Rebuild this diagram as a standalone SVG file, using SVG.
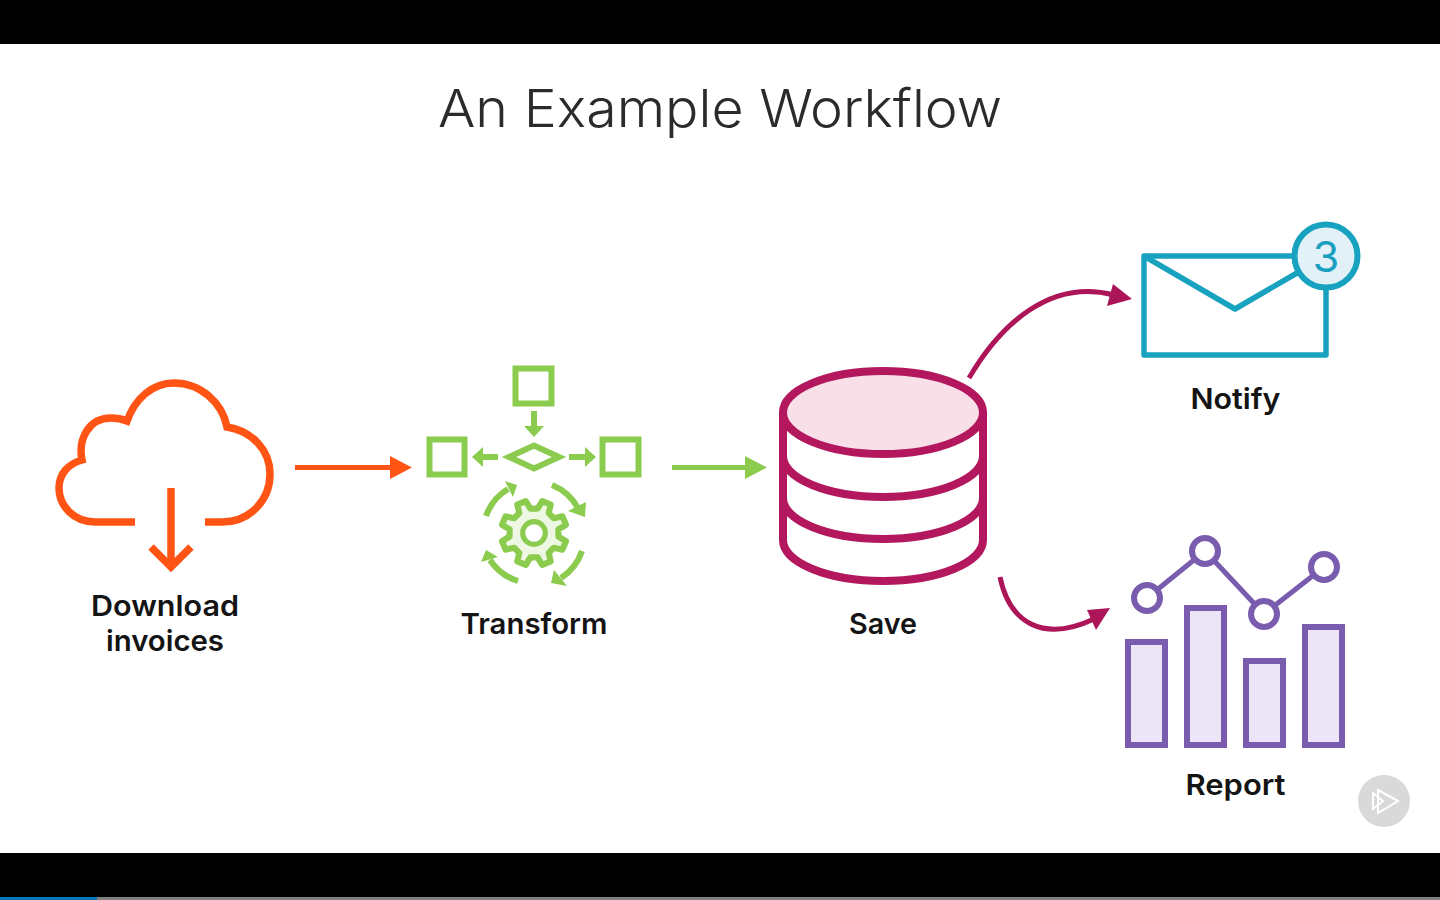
<svg xmlns="http://www.w3.org/2000/svg" width="1440" height="900" viewBox="0 0 1440 900">
<style>
.title{font-family:Inter,"Liberation Sans",sans-serif;font-weight:300;font-size:52px;fill:#2b2b2b}
.lbl{font-family:Inter,"Liberation Sans",sans-serif;font-weight:600;font-size:29px;fill:#141414;text-anchor:middle}
.or{fill:none;stroke:#ff5414;stroke-width:7.5}
.gr{fill:none;stroke:#8bcb4e;stroke-width:6}
.grf{fill:#8bcb4e}
.db{fill:none;stroke:#b3185f;stroke-width:8}
.cn{fill:none;stroke:#ad1559;stroke-width:5}
.cnf{fill:#ad1559}
.tl{fill:none;stroke:#17a2bf;stroke-width:5.5;stroke-linejoin:round}
.pu{fill:#ece4f7;stroke:#7a5cae;stroke-width:6}
.pl{fill:#fff;stroke:#7a5cae;stroke-width:6}
</style>
<rect x="0" y="0" width="1440" height="900" fill="#fff"/>
<rect x="0" y="0" width="1440" height="44" fill="#000"/>
<rect x="0" y="853" width="1440" height="47" fill="#000"/>
<rect x="0" y="897" width="1440" height="3" fill="#808080"/>
<rect x="0" y="897" width="97" height="3" fill="#0a78b4"/>
<text class="title" x="438" y="127" textLength="564" lengthAdjust="spacingAndGlyphs">An Example Workflow</text>

<g id="connectors">
<line x1="295" y1="467.500" x2="394" y2="467.500" stroke="#ff5414" stroke-width="5"/>
<polygon points="412,467.500 390,456 390,479" fill="#ff5414"/>
<line x1="672" y1="467.500" x2="748" y2="467.500" stroke="#8bcb4e" stroke-width="5"/>
<polygon points="767,467.500 745,456 745,479" fill="#8bcb4e"/>
<path class="cn" d="M969 378C1000 325 1050 278 1114 295"/>
<polygon class="cnf" points="1132,299 1113,284 1107,306"/>
<path class="cn" d="M1000 577C1010 625 1045 642 1094 619"/>
<polygon class="cnf" points="1110,608 1087,610 1096,630"/>
</g>

<g id="download">
<path class="or" d="M135 522H95C74 522 59 506 59 488C59 474 68 464 82 460C78 440 88 418 111 418C117 418 122 419 127 421C135 399 152 383 174 383C200 383 222 402 227 427C252 431 270 450 270 474C270 500 250 522 222 522H205"/>
<line class="or" x1="171" y1="488" x2="171" y2="566"/>
<path class="or" d="M151 547L171 567L191 547"/>
<text class="lbl" x="165" y="616" textLength="148" lengthAdjust="spacingAndGlyphs">Download</text>
<text class="lbl" x="165" y="651" textLength="118" lengthAdjust="spacingAndGlyphs">invoices</text>
</g>

<g id="transform">
<rect class="gr" x="515.500" y="368.500" width="36" height="35"/>
<rect class="gr" x="429.500" y="439.500" width="35" height="35"/>
<rect class="gr" x="602.500" y="439.500" width="36" height="35"/>
<polygon class="gr" points="509,457 534,445.500 559,457 534,468.500"/>
<line class="gr" x1="534" y1="411" x2="534" y2="428"/>
<polygon class="grf" points="524,426 544,426 534,437"/>
<line class="gr" x1="498" y1="457" x2="482" y2="457"/>
<polygon class="grf" points="483,447 483,467 472,457"/>
<line class="gr" x1="569" y1="457" x2="586" y2="457"/>
<polygon class="grf" points="585,447 585,467 596,457"/>
<path class="gr" d="M552 485A52 52 0 0 1 578 508"/>
<polygon class="grf" points="585,517 568,511 586,502"/>
<path class="gr" d="M582 551A52 52 0 0 1 561 578"/>
<polygon class="grf" points="551,583 554,570 567,586"/>
<path class="gr" d="M518 581A52 52 0 0 1 490 560"/>
<polygon class="grf" points="486,550 481,562 498,557"/>
<path class="gr" d="M486 516A52 52 0 0 1 508 489"/>
<polygon class="grf" points="517,485 505,481 513,497"/>
<g transform="translate(534 533) scale(1.030)">
<polygon fill="#eef7e4" stroke="#8bcb4e" stroke-width="6" stroke-linejoin="round" points="23.700,3.500 31,8 27.600,16.200 19.300,14.300 14.300,19.300 16.200,27.600 8,31 3.500,23.700 -3.500,23.700 -8,31 -16.200,27.600 -14.300,19.300 -19.300,14.300 -27.600,16.200 -31,8 -23.700,3.500 -23.700,-3.500 -31,-8 -27.600,-16.200 -19.300,-14.300 -14.300,-19.300 -16.200,-27.600 -8,-31 -3.500,-23.700 3.500,-23.700 8,-31 16.200,-27.600 14.300,-19.300 19.300,-14.300 27.600,-16.200 31,-8 23.700,-3.500"/>
<circle r="11" fill="#fff" stroke="#8bcb4e" stroke-width="5"/>
</g>
<text class="lbl" x="534" y="634" textLength="147" lengthAdjust="spacingAndGlyphs">Transform</text>
</g>

<g id="save">
<path class="db" d="M783 412V540A100 41 0 0 0 983 540V412"/>
<ellipse cx="883" cy="412.500" rx="100" ry="41.500" fill="#f9e0e8" stroke="#b3185f" stroke-width="8"/>
<path class="db" d="M783 456A100 41 0 0 0 983 456"/>
<path class="db" d="M783 498A100 41 0 0 0 983 498"/>
<text class="lbl" x="883" y="634" textLength="68" lengthAdjust="spacingAndGlyphs">Save</text>
</g>

<g id="notify">
<rect class="tl" x="1144" y="256" width="182" height="99"/>
<path class="tl" d="M1144 256L1235 309L1297 273"/>
<circle cx="1326" cy="256" r="31.500" fill="#e2f1f8" stroke="#17a2bf" stroke-width="6"/>
<text x="1326" y="272" font-family="Inter,'Liberation Sans',sans-serif" font-weight="400" font-size="43" fill="#1a9fc0" text-anchor="middle">3</text>
<text class="lbl" x="1235.500" y="409" textLength="90" lengthAdjust="spacingAndGlyphs">Notify</text>
</g>

<g id="report">
<rect class="pu" x="1128" y="642" width="37" height="103"/>
<rect class="pu" x="1187" y="608" width="37" height="137"/>
<rect class="pu" x="1246" y="661" width="37" height="84"/>
<rect class="pu" x="1305" y="627" width="37" height="118"/>
<path d="M1147 598L1205 551L1264 614L1324 567" fill="none" stroke="#7a5cae" stroke-width="5"/>
<circle class="pl" cx="1147" cy="598" r="13"/>
<circle class="pl" cx="1205" cy="551" r="13"/>
<circle class="pl" cx="1264" cy="614" r="13"/>
<circle class="pl" cx="1324" cy="567" r="13"/>
<text class="lbl" x="1235.500" y="795" textLength="100" lengthAdjust="spacingAndGlyphs">Report</text>
</g>

<g id="badge">
<circle cx="1384" cy="801" r="26" fill="#d9d9d9"/>
<polygon points="1378,790 1398,801 1378,813" fill="none" stroke="#fff" stroke-width="2"/>
<polygon points="1373,793 1383,801 1373,809" fill="none" stroke="#fff" stroke-width="2"/>
</g>
</svg>
